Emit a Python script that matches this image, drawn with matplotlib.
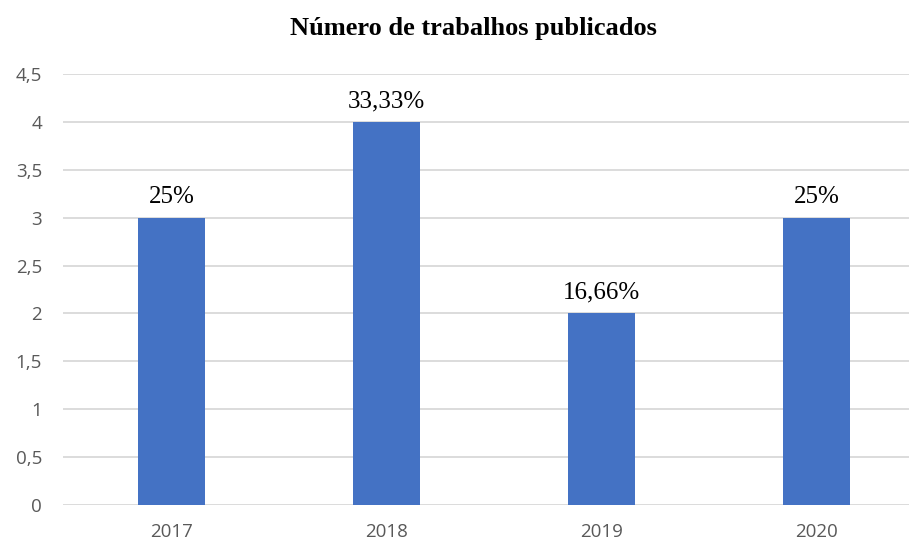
import matplotlib.pyplot as plt

years = ["2017", "2018", "2019", "2020"]
counts = [3, 4, 2, 3]
shares = ["25%", "33,33%", "16,66%", "25%"]
y_ticks = [0, 0.5, 1, 1.5, 2, 2.5, 3, 3.5, 4, 4.5]
y_tick_labels = ["0", "0,5", "1", "1,5", "2", "2,5", "3", "3,5", "4", "4,5"]

fig = plt.figure(figsize=(9.1, 5.44), dpi=100)
ax = fig.add_axes([0.0692, 0.0717, 0.93, 0.7923])

x = list(range(len(years)))
bars = ax.bar(x, counts, width=0.31, color="#4472C4", zorder=3)

for bar, label in zip(bars, shares):
    ax.annotate(label, (bar.get_x() + bar.get_width() / 2, bar.get_height()),
                xytext=(0, 7), textcoords="offset points", ha="center", va="bottom",
                family="Liberation Serif", fontsize=18, color="black")

ax.set_xlim(-0.505, 3.43)
ax.set_ylim(0, 4.5)
ax.set_xticks(x)
ax.set_xticklabels(years, family="Open Sans", fontsize=13.5, color="#595959")
ax.set_yticks(y_ticks)
ax.set_yticklabels(y_tick_labels, family="Open Sans", fontsize=13.5, color="#595959")
ax.tick_params(length=0)
ax.tick_params(axis="y", pad=15)
ax.tick_params(axis="x", pad=13)
ax.grid(axis="y", color="#D9D9D9", linewidth=1.3, zorder=0)
for side in ["top", "right", "left", "bottom"]:
    ax.spines[side].set_visible(False)

fig.text(473 / 910, 1 - 29 / 544, "Número de trabalhos publicados", ha="center", va="center",
         family="Liberation Serif", fontweight="bold", fontsize=19)

fig.savefig("out.png", dpi=100)
